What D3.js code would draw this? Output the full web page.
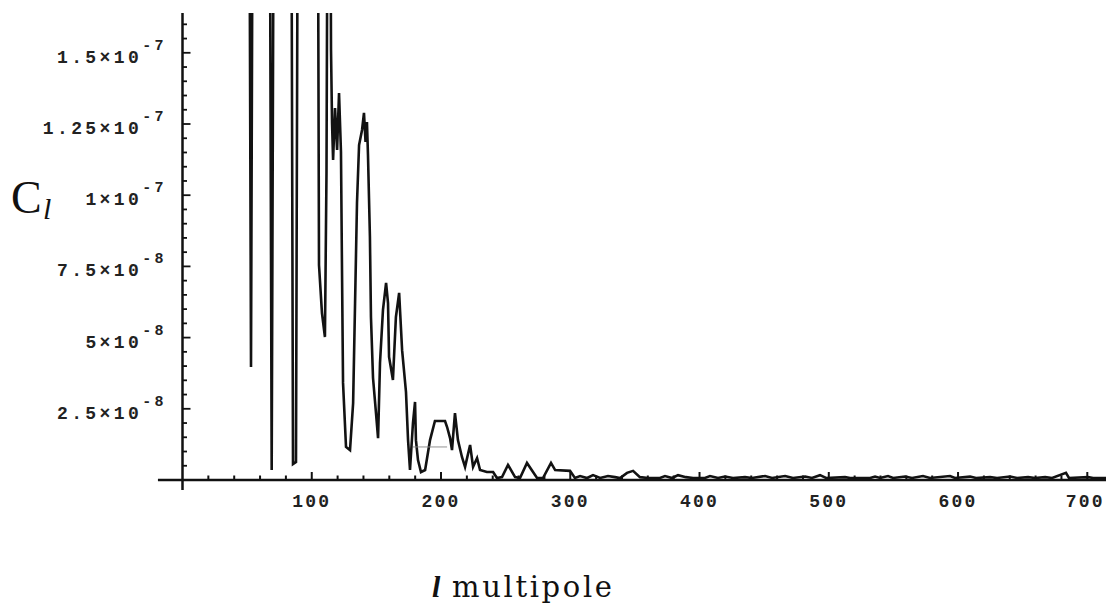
<!DOCTYPE html>
<html><head><meta charset="utf-8">
<script src="https://cdn.jsdelivr.net/npm/d3@7"></script>
<style>body{margin:0;background:#fff;overflow:hidden}</style>
</head><body><svg id="c" width="1106" height="611"></svg>
<script>
// multipole l and C_l values (values above the top are clipped)
const ells = [2.4, 51.5, 53.0, 54.5, 67.3, 69.0, 70.8, 84.0, 85.5, 87.8, 89.4, 104.5, 105.6, 107.9, 110.2, 111.4, 112.5, 114.1, 114.9, 115.7, 116.5, 118.0, 119.6, 121.1, 122.6, 123.4, 124.2, 126.5, 129.6, 132.0, 133.5, 135.0, 136.6, 138.9, 140.4, 141.6, 142.7, 143.5, 145.0, 145.8, 147.4, 149.7, 151.3, 152.8, 155.1, 157.5, 159.0, 159.8, 162.8, 165.1, 167.6, 169.9, 172.9, 174.5, 176.0, 178.3, 179.9, 180.6, 182.2, 184.5, 187.7, 191.5, 195.3, 203.1, 204.7, 207.0, 208.5, 210.8, 213.1, 216.2, 218.6, 222.5, 224.8, 227.9, 230.2, 235.5, 240.3, 243.3, 247.2, 251.8, 257.3, 261.1, 266.5, 274.3, 278.9, 285.1, 288.3, 299.8, 303.6,
  307.6, 313.0, 317.6, 323.1, 329.2, 334.6, 338.5, 343.9, 348.6, 353.9, 360.2, 369.4, 373.3, 378.8, 383.4, 389.5, 395.0, 404.2, 408.1, 414.3, 419.7, 425.9, 435.2, 440.6, 450.7, 456.1, 466.2, 472.3, 481.7, 487.0, 493.2, 497.9, 512.6, 516.5, 532.0, 535.8, 539.7, 545.8, 549.8, 559.0, 564.4, 572.9, 578.3, 593.8, 597.6, 609.3, 613.9, 624.8, 630.2, 640.3, 645.6, 654.2, 659.6, 667.4, 672.8, 683.5, 685.8, 700.6, 704.5, 714.5];
const cls = [2.5e-7, 2.5e-7, 3.97e-8, 2.5e-7, 2.5e-7, 0.35e-8, 2.5e-7, 2.5e-7, 0.56e-8, 0.63e-8, 2.5e-7, 2.5e-7, 7.55e-8, 5.86e-8, 5.02e-8, 10.78e-8, 2.5e-7, 2.5e-7, 15.1e-8, 12.53e-8, 11.24e-8, 13.06e-8, 11.59e-8, 13.59e-8, 11.52e-8, 7.37e-8, 3.41e-8, 1.16e-8, 1.05e-8, 2.70e-8, 6.21e-8, 9.73e-8, 11.76e-8, 12.29e-8, 12.89e-8, 11.87e-8, 12.57e-8, 11.41e-8, 8.53e-8, 5.72e-8, 3.58e-8, 2.35e-8, 1.47e-8, 4.11e-8, 5.97e-8, 6.92e-8, 6.21e-8, 4.32e-8, 3.51e-8, 5.72e-8, 6.57e-8, 4.56e-8, 3.09e-8, 1.40e-8, 0.35e-8, 2.00e-8, 2.74e-8, 1.40e-8, 0.70e-8, 0.28e-8, 0.35e-8, 1.40e-8, 2.07e-8, 2.07e-8, 1.86e-8, 1.47e-8, 1.05e-8, 2.35e-8, 1.40e-8, 0.81e-8, 0.46e-8, 1.23e-8, 0.46e-8, 0.77e-8, 0.35e-8, 0.28e-8, 0.28e-8, 0.07e-8, 0.1e-8, 0.53e-8, 0.1e-8, 0.07e-8, 0.6e-8, 0.07e-8, 0.07e-8, 0.6e-8, 0.35e-8, 0.32e-8, 0.07e-8,
  0.14e-8, 0.07e-8, 0.17e-8, 0.07e-8, 0.14e-8, 0.1e-8, 0.07e-8, 0.25e-8, 0.32e-8, 0.1e-8, 0.07e-8, 0.07e-8, 0.14e-8, 0.07e-8, 0.17e-8, 0.1e-8, 0.07e-8, 0.07e-8, 0.14e-8, 0.07e-8, 0.12e-8, 0.07e-8, 0.1e-8, 0.07e-8, 0.14e-8, 0.07e-8, 0.14e-8, 0.07e-8, 0.12e-8, 0.07e-8, 0.17e-8, 0.07e-8, 0.1e-8, 0.07e-8, 0.07e-8, 0.12e-8, 0.07e-8, 0.14e-8, 0.07e-8, 0.12e-8, 0.07e-8, 0.14e-8, 0.07e-8, 0.14e-8, 0.07e-8, 0.12e-8, 0.07e-8, 0.1e-8, 0.07e-8, 0.12e-8, 0.07e-8, 0.1e-8, 0.07e-8, 0.1e-8, 0.07e-8, 0.25e-8, 0.07e-8, 0.1e-8, 0.07e-8, 0.07e-8];
// faint stray segment seen in the scan
const faintL = [178.3, 204.7];
const faintC = [1.16e-8, 1.16e-8];

const xTicks = [100, 200, 300, 400, 500, 600, 700];
const xTickLabels = ["100", "200", "300", "400", "500", "600", "700"];
const yTicks = [2.5e-8, 5e-8, 7.5e-8, 1e-7, 1.25e-7, 1.5e-7];
const yMant = ["2.5", "5", "7.5", "1", "1.25", "1.5"];
const yExp = ["-8", "-8", "-8", "-7", "-7", "-7"];

const svg = d3.select("#c");
const x = d3.scaleLinear().domain([0, 700]).range([182.5, 1087.3]);
const y = d3.scaleLinear().domain([0, 1.5e-7]).range([480, 52.8]);
const yTop = y.invert(13), yBot = y.invert(490);

svg.append("defs").append("clipPath").attr("id", "clip")
  .append("rect").attr("x", x(0)).attr("y", y(yTop)).attr("width", 1106 - x(0)).attr("height", y(yBot) - y(yTop));

// data curve
const pts = ells.map((l, i) => [l, cls[i]]);
svg.append("path").datum(pts).attr("clip-path", "url(#clip)")
  .attr("fill", "none").attr("stroke", "#121212").attr("stroke-width", 2.6).attr("stroke-linejoin", "miter")
  .attr("d", d3.line().x(d => x(d[0])).y(d => y(d[1])));
svg.append("path").datum(faintL.map((l, i) => [l, faintC[i]]))
  .attr("fill", "none").attr("stroke", "#888").attr("stroke-width", 0.9)
  .attr("d", d3.line().x(d => x(d[0])).y(d => y(d[1])));

// axes
const ax = svg.append("g").attr("stroke", "#111");
ax.append("line").attr("x1", x(-19)).attr("x2", 1106).attr("y1", y(0)).attr("y2", y(0)).attr("stroke-width", 2.5);
ax.append("line").attr("x1", x(0)).attr("x2", x(0)).attr("y1", y(yTop)).attr("y2", y(yBot)).attr("stroke-width", 2.5);
// x ticks
x.ticks(35).filter(v => v > 0).forEach(v => {
  const major = Math.abs(v % 100) < 1e-9;
  ax.append("line").attr("x1", x(v)).attr("x2", x(v)).attr("y1", y(0)).attr("y2", y(0) - (major ? 8 : 4.5)).attr("stroke-width", 2);
});
// y ticks
d3.range(1, 33).map(k => k * 5e-9).forEach(v => {
  const major = yTicks.some(t => Math.abs(t - v) < 1e-12);
  ax.append("line").attr("x1", x(0)).attr("x2", x(0) + (major ? 8 : 4.5)).attr("y1", y(v)).attr("y2", y(v)).attr("stroke-width", 1.8);
});

// tick labels
const mono = "'Liberation Mono','Courier New',monospace";
xTicks.forEach((v, i) => {
  svg.append("text").attr("x", x(v) - (i === xTicks.length - 1 ? 2 : 0)).attr("y", 507).attr("text-anchor", "middle")
    .attr("font-family", mono).attr("font-weight", "bold").attr("font-size", 18).attr("letter-spacing", 2.2)
    .attr("fill", "#222").text(xTickLabels[i]);
});
yTicks.forEach((v, i) => {
  const t = svg.append("text").attr("x", 167).attr("y", y(v) + 10).attr("text-anchor", "end")
    .attr("font-family", mono).attr("font-weight", "bold").attr("font-size", 18).attr("letter-spacing", 3.4)
    .attr("fill", "#222");
  t.append("tspan").text(yMant[i] + "×10");
  t.append("tspan").attr("dy", -13).attr("font-size", 15).text(yExp[i]);
});

// axis titles
const serif = "'Liberation Serif','Times New Roman',serif";
svg.append("text").attr("x", 11).attr("y", 213).attr("font-family", serif).attr("font-size", 46).attr("fill", "#111").text("C");
svg.append("text").attr("x", 43).attr("y", 219).attr("font-family", serif).attr("font-style", "italic").attr("font-size", 30).attr("fill", "#111").text("l");
svg.append("text").attr("x", 432).attr("y", 597).attr("font-family", serif).attr("font-style", "italic").attr("font-weight", "bold").attr("font-size", 30).attr("fill", "#111").text("l");
svg.append("text").attr("x", 452).attr("y", 597).attr("font-family", "'DejaVu Serif',serif").attr("font-size", 29)
  .attr("textLength", 160).attr("lengthAdjust", "spacing").attr("fill", "#111").text("multipole");
</script></body></html>
